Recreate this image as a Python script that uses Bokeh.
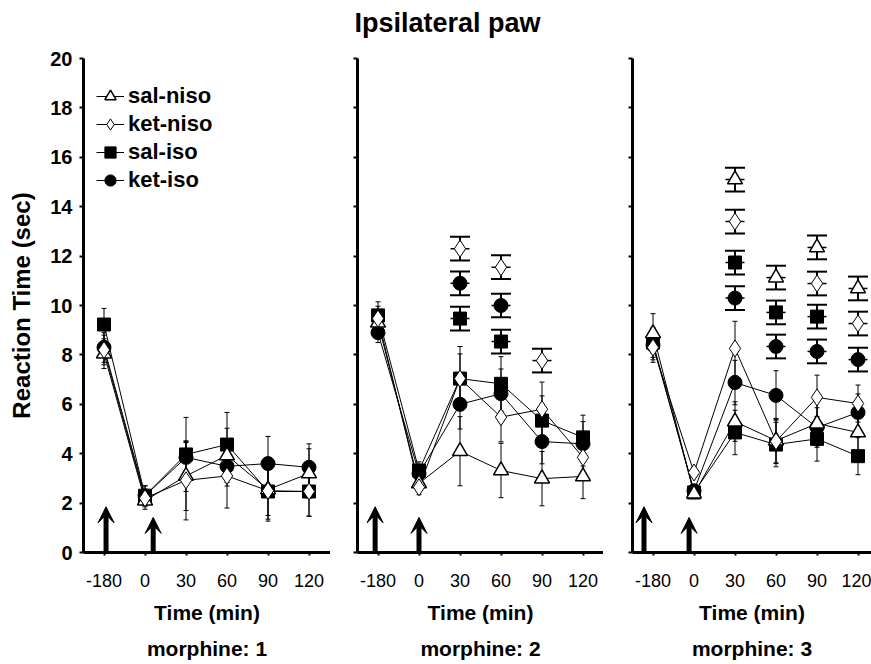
import math
from bokeh.plotting import figure
from bokeh.models import (Range1d, FixedTicker, ColumnDataSource, Whisker, TeeHead,
                          Arrow, VeeHead, Legend, LegendItem, Title)
from bokeh.layouts import column, row
from bokeh.embed import file_html
from bokeh.resources import INLINE

nan = float("nan")

# ---------------- data ----------------
time_labels = ["-180", "0", "30", "60", "90", "120"]
groups = ["sal-niso", "ket-niso", "sal-iso", "ket-iso"]
dose_titles = ["morphine: 1", "morphine: 2", "morphine: 3"]
y_ticks = [0, 2, 4, 6, 8, 10, 12, 14, 16, 18, 20]

# morphine 1 : connected means and error bars
m1_sal_niso = [8.05, 2.10, 3.10, 3.93, 2.55, 3.20]
m1_sal_niso_err = [0.60, 0.35, 1.40, 1.10, 1.20, 1.00]
m1_ket_niso = [8.20, 2.20, 2.92, 3.10, 2.50, 2.47]
m1_ket_niso_err = [0.60, 0.35, 1.60, 1.30, 1.00, 1.00]
m1_sal_iso = [9.23, 2.30, 3.97, 4.37, 2.47, 2.47]
m1_sal_iso_err = [0.65, 0.40, 1.50, 1.30, 1.20, 1.00]
m1_ket_iso = [8.30, 2.30, 3.85, 3.49, 3.60, 3.45]
m1_ket_iso_err = [0.60, 0.40, 0.60, 0.80, 1.10, 0.95]

# morphine 2
m2_sal_niso = [9.30, 2.80, 4.10, 3.32, 2.99, 3.08]
m2_sal_niso_err = [0.50, 0.30, 1.40, 1.10, 1.10, 0.90]
m2_ket_niso = [9.47, 2.64, 7.04, 5.48, 5.80, 3.85]
m2_ket_niso_err = [0.50, 0.30, 1.00, 1.00, 1.10, 0.90]
m2_sal_iso = [9.60, 3.32, 7.04, 6.83, 5.34, 4.66]
m2_sal_iso_err = [0.55, 0.35, 1.30, 1.10, 1.00, 0.90]
m2_ket_iso = [8.90, 3.20, 6.00, 6.43, 4.49, 4.40]
m2_ket_iso_err = [0.40, 0.30, 1.00, 1.00, 0.90, 0.90]

# morphine 3
m3_sal_niso = [8.87, 2.38, 5.30, 4.53, 5.22, 4.86]
m3_sal_niso_err = [0.80, 0.20, 0.80, 0.90, 0.90, 0.75]
m3_ket_niso = [8.30, 3.24, 8.26, 4.50, 6.28, 6.03]
m3_ket_niso_err = [0.60, 0.20, 1.10, 0.90, 0.90, 0.75]
m3_sal_iso = [8.50, 2.43, 4.86, 4.37, 4.60, 3.90]
m3_sal_iso_err = [0.60, 0.20, 0.90, 0.90, 0.90, 0.75]
m3_ket_iso = [8.40, 2.50, 6.88, 6.36, 5.06, 5.67]
m3_ket_iso_err = [0.60, 0.20, 0.90, 1.00, 0.80, 0.75]

# separate (unconnected) high points
m1_sal_niso_peak = [nan, nan, nan, nan, nan, nan]
m1_ket_niso_peak = [nan, nan, nan, nan, nan, nan]
m1_sal_iso_peak = [nan, nan, nan, nan, nan, nan]
m1_ket_iso_peak = [nan, nan, nan, nan, nan, nan]

m2_sal_niso_peak = [nan, nan, nan, nan, nan, nan]
m2_ket_niso_peak = [nan, nan, 12.30, 11.55, 7.77, nan]
m2_sal_iso_peak = [nan, nan, 9.47, 8.54, nan, nan]
m2_ket_iso_peak = [nan, nan, 10.90, 10.00, nan, nan]

m3_sal_niso_peak = [nan, nan, 15.10, 11.13, 12.35, 10.69]
m3_ket_niso_peak = [nan, nan, 13.40, nan, 10.89, 9.27]
m3_sal_iso_peak = [nan, nan, 11.74, 9.72, 9.55, nan]
m3_ket_iso_peak = [nan, nan, 10.30, 8.34, 8.14, 7.81]

peak_err = [0.48, 0.48, 0.48, 0.48, 0.48, 0.48]

# injection arrows (time index, arrow tip height)
arrow_idx = [0, 1]
arrow_tip = [1.85, 1.42]
arrow_shift = [[0.05, 0.2], [-0.07, 0.0], [-0.22, -0.12]]

# ---------------- build ----------------
means = [
    {"sal-niso": (m1_sal_niso, m1_sal_niso_err), "ket-niso": (m1_ket_niso, m1_ket_niso_err),
     "sal-iso": (m1_sal_iso, m1_sal_iso_err), "ket-iso": (m1_ket_iso, m1_ket_iso_err)},
    {"sal-niso": (m2_sal_niso, m2_sal_niso_err), "ket-niso": (m2_ket_niso, m2_ket_niso_err),
     "sal-iso": (m2_sal_iso, m2_sal_iso_err), "ket-iso": (m2_ket_iso, m2_ket_iso_err)},
    {"sal-niso": (m3_sal_niso, m3_sal_niso_err), "ket-niso": (m3_ket_niso, m3_ket_niso_err),
     "sal-iso": (m3_sal_iso, m3_sal_iso_err), "ket-iso": (m3_ket_iso, m3_ket_iso_err)},
]
peaks = [
    {"sal-niso": m1_sal_niso_peak, "ket-niso": m1_ket_niso_peak,
     "sal-iso": m1_sal_iso_peak, "ket-iso": m1_ket_iso_peak},
    {"sal-niso": m2_sal_niso_peak, "ket-niso": m2_ket_niso_peak,
     "sal-iso": m2_sal_iso_peak, "ket-iso": m2_ket_iso_peak},
    {"sal-niso": m3_sal_niso_peak, "ket-niso": m3_ket_niso_peak,
     "sal-iso": m3_sal_iso_peak, "ket-iso": m3_ket_iso_peak},
]

STYLE = {
    "sal-niso": dict(marker="triangle", fill_color="white", size=15, line_width=1.5),
    "ket-niso": dict(marker="diamond", fill_color="white", size=17, line_width=1.0),
    "sal-iso": dict(marker="square", fill_color="black", size=13, line_width=1.0),
    "ket-iso": dict(marker="circle", fill_color="black", size=14, line_width=1.0),
}
DRAW_ORDER = ["ket-iso", "sal-iso", "sal-niso", "ket-niso"]

FONT = "Liberation Sans"
x_idx = list(range(len(time_labels)))

frame_w = [247, 246, 239]
left_b = [83, 27, 29]


def make_panel(k):
    x_end = -0.5 + frame_w[k] / 41.0
    p = figure(frame_width=frame_w[k], frame_height=494,
               x_range=Range1d(-0.5, x_end), y_range=Range1d(0, 20),
               toolbar_location=None, output_backend="svg",
               min_border_left=left_b[k], min_border_right=0,
               min_border_top=10, min_border_bottom=60)
    p.outline_line_color = None
    p.grid.visible = False
    p.background_fill_color = "white"

    # axes
    p.xaxis.ticker = FixedTicker(ticks=x_idx)
    p.xaxis.major_label_overrides = {i: lbl for i, lbl in zip(x_idx, time_labels)}
    p.xaxis.axis_label = "Time (min)"
    p.yaxis.ticker = FixedTicker(ticks=y_ticks)
    for ax in (p.xaxis[0], p.yaxis[0]):
        ax.axis_line_width = 3
        ax.axis_line_color = "black"
        ax.major_tick_in = 0
        ax.major_tick_line_width = 2
        ax.minor_tick_line_color = None
        ax.axis_label_text_font = FONT
        ax.axis_label_text_font_style = "bold"
        ax.axis_label_text_font_size = "21px"
        ax.axis_label_text_color = "black"
        ax.major_label_text_font = FONT
        ax.major_label_text_color = "black"
    p.xaxis.major_tick_out = 3
    p.xaxis.major_label_text_font_size = "18px"
    p.xaxis.major_label_standoff = 18
    p.xaxis.axis_label_standoff = 11
    p.yaxis.major_tick_out = 4
    if k == 0:
        p.yaxis.axis_label = "Reaction Time (sec)"
        p.yaxis.axis_label_text_font_size = "24px"
        p.yaxis.major_label_text_font_size = "20px"
        p.yaxis.major_label_text_font_style = "bold"
        p.yaxis.major_label_standoff = 7
        p.yaxis.axis_label_standoff = 12
    else:
        p.yaxis.major_label_overrides = {t: "" for t in y_ticks}
        p.yaxis.major_label_text_font_size = "1px"

    p.add_layout(Title(text=dose_titles[k], align="center", text_font=FONT,
                       text_font_size="21px", text_font_style="bold",
                       text_color="black", standoff=16), "below")

    line_r, mark_r = {}, {}
    # error bars of connected series
    for g in groups:
        m, e = means[k][g]
        src = ColumnDataSource(dict(x=x_idx, lo=[a - b for a, b in zip(m, e)],
                                    hi=[a + b for a, b in zip(m, e)]))
        w = Whisker(base="x", lower="lo", upper="hi", source=src, dimension="height",
                    line_color="black", line_width=1, level="underlay",
                    upper_head=TeeHead(size=5, line_color="black", line_width=1),
                    lower_head=TeeHead(size=5, line_color="black", line_width=1))
        p.add_layout(w)
    # error bars of separate high points
    for g in groups:
        pk = peaks[k][g]
        xs = [x for x, v in zip(x_idx, pk) if not math.isnan(v)]
        if not xs:
            continue
        vs = [v for v in pk if not math.isnan(v)]
        es = [e for v, e in zip(pk, peak_err) if not math.isnan(v)]
        src = ColumnDataSource(dict(x=xs, lo=[a - b for a, b in zip(vs, es)],
                                    hi=[a + b for a, b in zip(vs, es)]))
        w = Whisker(base="x", lower="lo", upper="hi", source=src, dimension="height",
                    line_color="black", line_width=2, level="underlay",
                    upper_head=TeeHead(size=20, line_color="black", line_width=2),
                    lower_head=TeeHead(size=20, line_color="black", line_width=2))
        p.add_layout(w)

    # connecting lines
    for g in groups:
        m, _ = means[k][g]
        line_r[g] = p.line(x_idx, m, line_color="black", line_width=1)

    # high points: center dash + marker
    for g in DRAW_ORDER:
        pk = peaks[k][g]
        xs = [x for x, v in zip(x_idx, pk) if not math.isnan(v)]
        if not xs:
            continue
        vs = [v for v in pk if not math.isnan(v)]
        p.scatter(xs, vs, marker="dash", size=19, line_color="black", line_width=1.5)
        st = STYLE[g]
        p.scatter(xs, vs, marker=st["marker"], size=st["size"], fill_color=st["fill_color"],
                  line_color="black", line_width=st["line_width"])

    # connected markers
    for g in DRAW_ORDER:
        m, _ = means[k][g]
        st = STYLE[g]
        mark_r[g] = p.scatter(x_idx, m, marker=st["marker"], size=st["size"],
                              fill_color=st["fill_color"], line_color="black",
                              line_width=st["line_width"])

    # injection arrows
    for j, xi in enumerate(arrow_idx):
        xa = xi + arrow_shift[k][j]
        p.add_layout(Arrow(x_start=xa, y_start=0, x_end=xa, y_end=arrow_tip[j],
                           line_color="black", line_width=5,
                           end=VeeHead(size=16, fill_color="black", line_color="black",
                                       line_width=1)))

    if k == 0:
        items = [LegendItem(label=g, renderers=[line_r[g], mark_r[g]]) for g in groups]
        leg = Legend(items=items, location=(13, 358), glyph_width=28, glyph_height=28,
                     label_height=28, spacing=0, padding=0, margin=0, label_standoff=4,
                     label_text_font=FONT, label_text_font_size="22px",
                     label_text_font_style="bold", label_text_color="black",
                     border_line_color=None, background_fill_alpha=0)
        p.add_layout(leg)
    return p


panels = [make_panel(k) for k in range(3)]

head = figure(width=871, height=48, toolbar_location=None, output_backend="svg",
              x_range=Range1d(0, 1), y_range=Range1d(0, 1),
              min_border_left=23, min_border_right=0, min_border_top=4, min_border_bottom=0)
head.axis.visible = False
head.grid.visible = False
head.outline_line_color = None
head.title.text = "Ipsilateral paw"
head.title.align = "center"
head.title.text_font = FONT
head.title.text_font_size = "27px"
head.title.text_font_style = "bold"
head.title.text_color = "black"

layout = column(head, row(*panels, spacing=0), spacing=0)

open("out.html", "w").write(file_html(layout, INLINE))
